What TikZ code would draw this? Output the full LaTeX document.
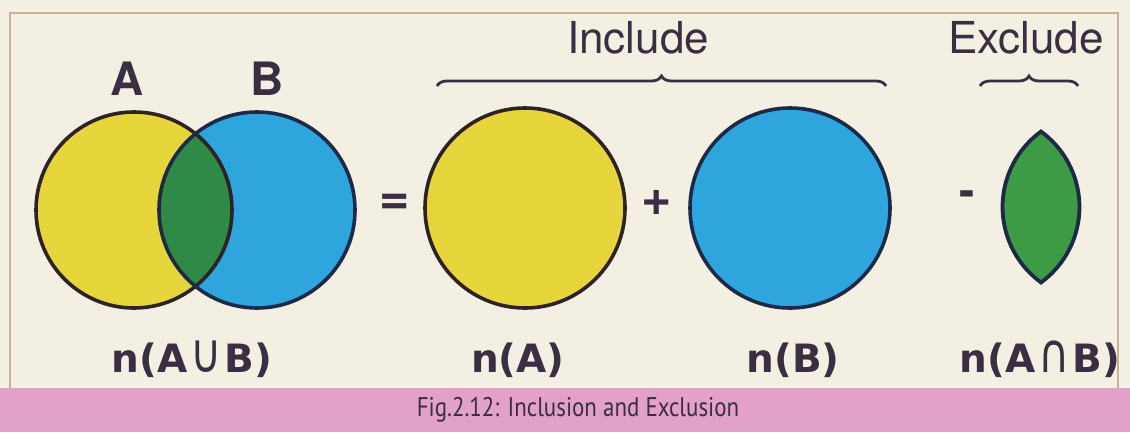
\documentclass[tikz,border=0pt]{standalone}
\usepackage{graphicx}
\usepackage{fontspec}
\setmainfont{TeX Gyre Heros}
\newfontfamily\lblfont{DejaVu Sans}
\newfontfamily\capfont{PT Sans}
\usetikzlibrary{decorations.pathreplacing}
\definecolor{bgc}{HTML}{F4EFE3}
\definecolor{framec}{HTML}{C9B09C}
\definecolor{pinkc}{HTML}{E3A0CB}
\definecolor{yel}{HTML}{E6D63C}
\definecolor{blu}{HTML}{2EA6DD}
\definecolor{grnA}{HTML}{2F8A48}
\definecolor{grnB}{HTML}{3D9B45}
\definecolor{inkc}{HTML}{3A2E42}
\definecolor{olY}{HTML}{2E2226}
\definecolor{olB}{HTML}{1C2A48}
\newcommand\myunion{\hspace{3pt}\scalebox{1.1}[1.4]{\mdseries ∪}\hspace{3pt}}
\newcommand\myinter{\hspace{3pt}\scalebox{1.1}[1.4]{\mdseries ∩}\hspace{3pt}}
\tikzset{
  setlbl/.style={inner sep=0pt, anchor=base, text=inkc, font=\bfseries\fontsize{46}{50}\selectfont},
  headlbl/.style={inner sep=0pt, anchor=base, text=inkc, font=\fontsize{44}{48}\selectfont},
  countlbl/.style={inner sep=0pt, anchor=base, text=inkc, font=\lblfont\bfseries\fontsize{39}{44}\selectfont},
  oplbl/.style={inner sep=0pt, text=inkc, font=\bfseries\fontsize{52}{56}\selectfont},
  bracestyle/.style={draw=inkc, line width=2.8pt, decorate, decoration={brace, amplitude=10pt}},
  ringY/.style={draw=olY, line width=3.6pt},
  ringB/.style={draw=olB, line width=3.6pt},
}
\begin{document}
\begin{tikzpicture}[x=1pt,y=-1pt]
\useasboundingbox (0,0) rectangle (1130,432);
\fill[bgc] (0,0) rectangle (1130,432);
% frame
\draw[framec, line width=2pt] (10,388) -- (10,13) -- (1118,13) -- (1118,388);
% caption band
\fill[pinkc] (0,388) rectangle (1130,432);
\node[inner sep=0pt, text=inkc, font=\capfont\fontsize{27}{30}\selectfont, xscale=0.85] (cap) at (578,410) {Fig.2.12: Inclusion and Exclusion};

% left Venn
\coordinate (cA) at (134,210);
\coordinate (cB) at (257,210);
\fill[yel] (cA) circle (98);
\fill[blu] (cB) circle (98);
\begin{scope}
  \clip (cA) circle (98);
  \fill[grnA] (cB) circle (98);
\end{scope}
\draw[ringY] (cA) circle (98);
\draw[ringB] (cB) circle (98);
\node[setlbl] (lA) at (127,95) {A};
\node[setlbl] (lB) at (267,95) {B};

% operators
\node[oplbl] (eq) at (395,204) {=};
\node[oplbl] (plus) at (657,203) {+};
\node[oplbl, font=\bfseries\fontsize{46}{50}\selectfont] (minus) at (967,199) {-};

% n(A), n(B)
\coordinate (cA2) at (525,208);
\coordinate (cB2) at (790,208);
\fill[yel] (cA2) circle (100);
\draw[ringY] (cA2) circle (100);
\fill[blu] (cB2) circle (100);
\draw[ringB] (cB2) circle (100);

% lens
\coordinate (lt) at (1041,131.5);
\path[fill=grnB, draw=olB, line width=3.8pt]
  (lt) arc[start angle=234, end angle=126, radius=93.3]
       arc[start angle=54, end angle=-54, radius=93.3] -- cycle;

% headings and braces
\node[headlbl] (inc) at (638,53) {Include};
\node[headlbl] (exc) at (1026,53) {Exclude};
\coordinate (b1l) at (437,86);
\coordinate (b1r) at (886,86);
\coordinate (b2l) at (980,86);
\coordinate (b2r) at (1078,86);
\draw[bracestyle] (b1l) -- (b1r);
\draw[bracestyle] (b2l) -- (b2r);

% count labels
\node[countlbl] (nU) at (192,372) {n(A\myunion B)};
\node[countlbl] (nA) at (518,372) {n(A)};
\node[countlbl] (nB) at (793,372) {n(B)};
\node[countlbl] (nI) at (1040,372) {n(A\myinter B)};
\end{tikzpicture}
\end{document}
